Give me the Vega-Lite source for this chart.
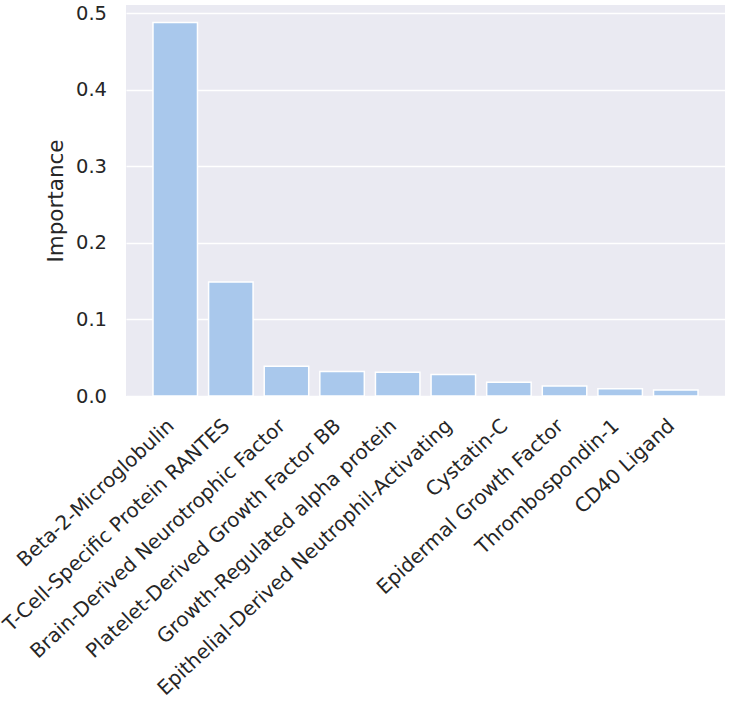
{
  "$schema": "https://vega.github.io/schema/vega-lite/v6.json",
  "autosize": "none",
  "padding": {"left": 126, "top": 5, "right": 8, "bottom": 309},
  "width": 599,
  "height": 391,
  "background": "white",
  "config": {
    "view": {"fill": "#EAEAF2", "stroke": null},
    "font": "DejaVu Sans"
  },
  "data": {
    "values": [
      {"feature": "Beta-2-Microglobulin", "importance": 0.488},
      {"feature": "T-Cell-Specific Protein RANTES", "importance": 0.149},
      {"feature": "Brain-Derived Neurotrophic Factor", "importance": 0.039},
      {"feature": "Platelet-Derived Growth Factor BB", "importance": 0.032},
      {"feature": "Growth-Regulated alpha protein", "importance": 0.031},
      {"feature": "Epithelial-Derived Neutrophil-Activating", "importance": 0.028},
      {"feature": "Cystatin-C", "importance": 0.018},
      {"feature": "Epidermal Growth Factor", "importance": 0.013},
      {"feature": "Thrombospondin-1", "importance": 0.0095},
      {"feature": "CD40 Ligand", "importance": 0.0078}
    ]
  },
  "mark": {"type": "bar", "fill": "#A9C8EC", "stroke": "white", "strokeWidth": 1.5},
  "encoding": {
    "x": {
      "field": "feature",
      "type": "nominal",
      "sort": null,
      "scale": {"paddingInner": 0.2, "paddingOuter": 0.485},
      "axis": {
        "title": null,
        "labelAngle": -43,
        "labelAlign": "right",
        "labelBaseline": "alphabetic",
        "labelFontSize": 19.9,
        "labelColor": "#262626",
        "labelPadding": 31,
        "labelDx": 8.8,
        "labelDy": 8.1,
        "ticks": false,
        "domain": false,
        "grid": false,
        "labelLimit": 0,
        "labelOverlap": false
      }
    },
    "y": {
      "field": "importance",
      "type": "quantitative",
      "scale": {"domain": [0, 0.511], "nice": false, "zero": true},
      "axis": {
        "title": "Importance",
        "titleFontSize": 21.5,
        "titleFontWeight": "normal",
        "titleColor": "#262626",
        "titlePadding": 8,
        "values": [0, 0.1, 0.2, 0.3, 0.4, 0.5],
        "format": ".1f",
        "labelFontSize": 19.5,
        "labelColor": "#262626",
        "labelPadding": 19.5,
        "ticks": false,
        "domain": false,
        "grid": true,
        "gridColor": "white",
        "gridWidth": 1.6
      }
    }
  }
}
